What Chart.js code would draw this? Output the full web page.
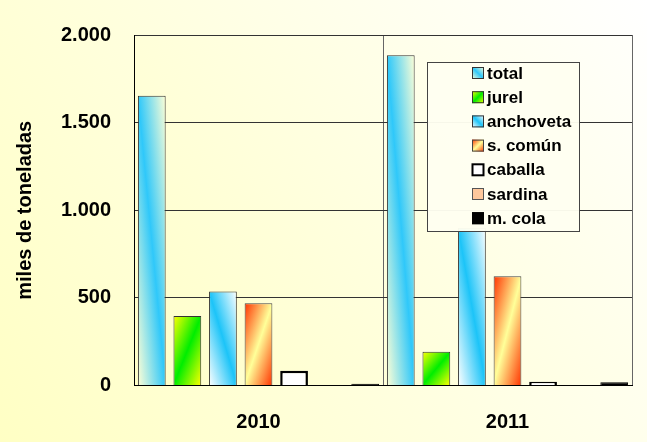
<!DOCTYPE html>
<html>
<head>
<meta charset="utf-8">
<script src="https://cdn.jsdelivr.net/npm/chart.js@4/dist/chart.umd.min.js"></script>
<style>
  html, body { margin: 0; padding: 0; background: #fff; }
</style>
</head>
<body>
<canvas id="chart" width="647" height="442"></canvas>
<script>
// data (miles de toneladas)
const years = ['2010', '2011'];
const seriesNames = ['total', 'jurel', 'anchoveta', 's. común', 'caballa', 'sardina', 'm. cola'];
const total = [1653, 1885];
const jurel = [397, 192];
const anchoveta = [537, 900];
const sComun = [469, 623];
const caballa = [84, 22];
const sardina = [2, 2];
const mCola = [10, 18];
const yTicks = [0, 500, 1000, 1500, 2000];

const seriesValues = [total, jurel, anchoveta, sComun, caballa, sardina, mCola];

// fill style per series: 'sum' = band across the anti-diagonal, 'diff' = band along the diagonal
const looks = [
  { mode: 'diff', a: '#FFFFD6', b: '#2FC8FA', border: '#333', bw: 1 },
  { mode: 'sum', a: '#FFFF00', b: '#00EE00', border: '#333', bw: 1 },
  { mode: 'diff', a: '#FFFFFF', b: '#1CC4F8', border: '#333', bw: 1 },
  { mode: 'sum', a: '#FF3300', b: '#FFFF99', border: '#444', bw: 1 },
  { solid: '#FFFFFF', border: '#000', bw: 2.5 },
  { solid: '#FFC89C', border: '#555', bw: 1 },
  { solid: '#000000', border: '#000', bw: 1 },
];

const FONT = "'Liberation Sans', Arial, sans-serif";

const fillFor = (ctx, look, x, y, w, h) => {
  if (look.solid) return look.solid;
  const k = (h * h + w * w) || 1;
  let g;
  if (look.mode === 'sum') {
    g = ctx.createLinearGradient(x, y, x + 2 * w * h * h / k, y + 2 * w * w * h / k);
  } else {
    g = ctx.createLinearGradient(x, y + h, x + 2 * w * h * h / k, y + h - 2 * w * w * h / k);
  }
  g.addColorStop(0, look.a);
  g.addColorStop(0.5, look.b);
  g.addColorStop(1, look.a);
  return g;
};

const fmt = (v) => String(v).replace(/\B(?=(\d{3})+(?!\d))/g, '.');

// page + plot background
const backdrop = {
  id: 'backdrop',
  beforeDraw(chart) {
    const { ctx, width, height, chartArea: a } = chart;
    ctx.save();
    let g = ctx.createLinearGradient(0, height, width, 0);
    g.addColorStop(0, '#FFFFC4');
    g.addColorStop(1, '#FFFFFF');
    ctx.fillStyle = g;
    ctx.fillRect(0, 0, width, height);
    g = ctx.createLinearGradient(a.left, a.bottom, a.right, a.top);
    g.addColorStop(0, '#FFFFC8');
    g.addColorStop(1, '#FFFFFA');
    ctx.fillStyle = g;
    ctx.fillRect(a.left, a.top, a.right - a.left, a.bottom - a.top);
    ctx.restore();
  },
};

// gradient fills need the bar rectangles, so set them once bars are laid out
const barShading = {
  id: 'barShading',
  beforeDatasetsDraw(chart) {
    const ctx = chart.ctx;
    chart.data.datasets.forEach((ds, i) => {
      const look = looks[i];
      chart.getDatasetMeta(i).data.forEach((bar) => {
        const w = bar.width;
        const top = Math.min(bar.y, bar.base);
        const h = Math.abs(bar.base - bar.y);
        bar.options.backgroundColor = fillFor(ctx, look, bar.x - w / 2, top, w, h);
      });
    });
  },
};

// legend box sitting on top of the 2011 bars
const boxLegend = {
  id: 'boxLegend',
  afterDraw(chart) {
    const ctx = chart.ctx;
    ctx.save();
    ctx.fillStyle = 'rgba(255,255,240,0.96)';
    ctx.fillRect(427, 62, 152, 169);
    ctx.strokeStyle = '#444';
    ctx.lineWidth = 1;
    ctx.strokeRect(427.5, 62.5, 152, 169);
    ctx.font = 'bold 17px ' + FONT;
    ctx.textBaseline = 'middle';
    seriesNames.forEach((name, i) => {
      const cy = 73 + i * 24.2;
      const look = looks[i];
      ctx.fillStyle = fillFor(ctx, look, 472, cy - 6, 12, 12);
      ctx.fillRect(472, cy - 6, 12, 12);
      ctx.strokeStyle = look.border;
      ctx.lineWidth = look.bw > 1 ? 2 : 1;
      ctx.strokeRect(472.5, cy - 5.5, 11, 11);
      ctx.fillStyle = '#000';
      ctx.fillText(name, 487, cy + 1);
    });
    ctx.restore();
  },
};

const datasets = seriesNames.map((name, i) => ({
  label: name,
  data: seriesValues[i],
  backgroundColor: () => '#ffffff',
  borderColor: looks[i].border,
  borderWidth: looks[i].bw,
  categoryPercentage: 1.0,
  barPercentage: 0.78,
}));

const chart = new Chart(document.getElementById('chart').getContext('2d'), {
  type: 'bar',
  data: { labels: years, datasets },
  plugins: [backdrop, barShading, boxLegend],
  options: {
    responsive: false,
    animation: false,
    layout: { padding: { top: 25, right: 15, left: 8, bottom: 0 } },
    plugins: { legend: { display: false }, tooltip: { enabled: false } },
    scales: {
      x: {
        grid: { color: '#666', drawTicks: false, offset: true },
        border: { color: '#000' },
        ticks: { color: '#000', padding: 25, font: { family: FONT, size: 20, weight: 'bold' } },
        afterFit(s) { s.height = 56.5; },
      },
      y: {
        min: 0,
        max: 2000,
        afterBuildTicks(s) { s.ticks = yTicks.map((v) => ({ value: v })); },
        grid: { color: '#333', drawTicks: false },
        border: { color: '#000' },
        ticks: { color: '#000', padding: 23, callback: fmt, font: { family: FONT, size: 20, weight: 'bold' } },
        title: {
          display: true,
          text: 'miles de toneladas',
          color: '#000',
          padding: { top: 5, bottom: 0 },
          font: { family: FONT, size: 20, weight: 'bold' },
        },
        afterFit(s) { s.width = 126; },
      },
    },
  },
});
</script>
</body>
</html>
